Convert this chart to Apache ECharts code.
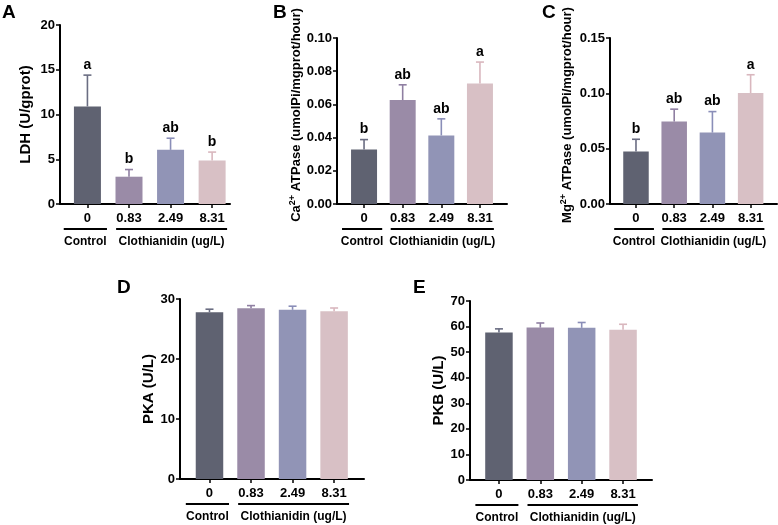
<!DOCTYPE html>
<html>
<head>
<meta charset="utf-8">
<script src="https://cdn.jsdelivr.net/npm/echarts@6/dist/echarts.min.js"></script>
<style>
	html, body { margin: 0; padding: 0; background: #fff; }
	#charts { width: 778px; height: 525px; }
</style>
</head>
<body>
<div id="charts"></div>
<script>
// doses on the x axis, same for every panel
var doses = ['0', '0.83', '2.49', '8.31'];
var groupNames = ['Control', 'Clothianidin (ug/L)'];
var groupFrom = [0, 1];
var groupTo = [0, 3];

// A - LDH
var ldhMean = [10.9, 3.05, 6.05, 4.85];
var ldhUpper = [14.4, 3.85, 7.35, 5.8];
var ldhSig = ['a', 'b', 'ab', 'b'];
// B - Ca2+ ATPase
var caMean = [0.0328, 0.0626, 0.0413, 0.0726];
var caUpper = [0.0388, 0.0718, 0.0513, 0.0855];
var caSig = ['b', 'ab', 'ab', 'a'];
// C - Mg2+ ATPase
var mgMean = [0.0475, 0.0745, 0.0645, 0.1003];
var mgUpper = [0.0585, 0.0857, 0.0835, 0.1168];
var mgSig = ['b', 'ab', 'ab', 'a'];
// D - PKA
var pkaMean = [27.8, 28.45, 28.2, 27.95];
var pkaUpper = [28.3, 28.9, 28.8, 28.5];
// E - PKB
var pkbMean = [57.7, 59.6, 59.5, 58.8];
var pkbUpper = [59.1, 61.4, 61.6, 60.9];

var barColors = ['#5f6271', '#9a8ba7', '#9194b6', '#d8c0c5'];
var errColors = ['#6a6d82', '#8f7fa2', '#8a8eb8', '#d9b7be'];
var FONT = '"Liberation Sans", Arial, sans-serif';

var panels = [
	{ letter: 'A', grid: { left: 60, top: 25, width: 170, height: 179 }, xMin: -0.66, xMax: 3.43, barW: 27,
	  yMax: 20, yInt: 5, dec: 0, name: 'LDH (U/gprot)', nameGap: 27, mean: ldhMean, upper: ldhUpper, sig: ldhSig },
	{ letter: 'B', grid: { left: 337, top: 38, width: 170, height: 166 }, xMin: -0.7, xMax: 3.7, barW: 26,
	  yMax: 0.10, yInt: 0.02, dec: 2, name: '{n|Ca}{s|2+}{n| ATPase (umolPi/mgprot/hour)}', nameGap: 22, mean: caMean, upper: caUpper, sig: caSig },
	{ letter: 'C', grid: { left: 610, top: 38, width: 167, height: 166 }, xMin: -0.68, xMax: 3.69, barW: 25.5,
	  yMax: 0.15, yInt: 0.05, dec: 2, name: '{n|Mg}{s|2+}{n| ATPase (umolPi/mgprot/hour)}', nameGap: 35, mean: mgMean, upper: mgUpper, sig: mgSig },
	{ letter: 'D', grid: { left: 180, top: 299, width: 184, height: 180 }, xMin: -0.71, xMax: 3.72, barW: 27.5,
	  yMax: 30, yInt: 10, dec: 0, name: 'PKA (U/L)', nameGap: 23, mean: pkaMean, upper: pkaUpper, sig: null },
	{ letter: 'E', grid: { left: 470, top: 301, width: 182, height: 179 }, xMin: -0.7, xMax: 3.7, barW: 27.5,
	  yMax: 70, yInt: 10, dec: 0, name: 'PKB (U/L)', nameGap: 24, mean: pkbMean, upper: pkbUpper, sig: null }
];
var letterPos = [[2, 3], [273, 3], [542, 3], [117, 278], [413, 278]];

var option = {
	backgroundColor: '#fff',
	animation: false,
	textStyle: { fontFamily: FONT },
	title: [],
	grid: [],
	xAxis: [],
	yAxis: [],
	series: []
};

panels.forEach(function (p, i) {
	var rotatedLong = i === 1 || i === 2;
	option.title.push({
		text: p.letter, left: letterPos[i][0], top: letterPos[i][1], padding: 0,
		textStyle: { fontFamily: FONT, fontSize: 19, fontWeight: 'bold', color: '#000' }
	});
	option.grid.push(p.grid);
	option.xAxis.push({
		type: 'value', gridIndex: i, min: p.xMin, max: p.xMax,
		axisLine: { show: true, onZero: false, lineStyle: { color: '#000', width: 2 } },
		axisTick: { show: true, length: 4, customValues: [0, 1, 2, 3], lineStyle: { color: '#000', width: 1.5 } },
		axisLabel: {
			customValues: [0, 1, 2, 3], margin: 8,
			fontFamily: FONT, fontSize: 13, fontWeight: 'bold', color: '#000',
			formatter: function (v) { return doses[Math.round(v)]; }
		},
		splitLine: { show: false }
	});
	option.yAxis.push({
		type: 'value', gridIndex: i, min: 0, max: p.yMax, interval: p.yInt,
		name: p.name, nameLocation: 'middle', nameGap: p.nameGap,
		nameTextStyle: {
			fontFamily: FONT, fontSize: rotatedLong ? 13 : 15, fontWeight: 'bold', color: '#000',
			padding: rotatedLong ? [0, 0, 0, 12] : 0,
			rich: {
				n: { fontFamily: FONT, fontSize: 13, fontWeight: 'bold', color: '#000', lineHeight: 16 },
				s: { fontFamily: FONT, fontSize: 9, fontWeight: 'bold', color: '#000', verticalAlign: 'top', lineHeight: 16 }
			}
		},
		axisLine: { show: true, onZero: false, lineStyle: { color: '#000', width: 2 } },
		axisTick: { show: true, length: 4, lineStyle: { color: '#000', width: 1.5 } },
		axisLabel: {
			margin: 5, fontFamily: FONT, fontSize: 13, fontWeight: 'bold', color: '#000',
			formatter: function (v) { return v.toFixed(p.dec); }
		},
		splitLine: { show: false }
	});

	// bars
	option.series.push({
		type: 'bar', xAxisIndex: i, yAxisIndex: i, barWidth: p.barW,
		itemStyle: { color: function (params) { return barColors[params.dataIndex]; } },
		data: p.mean.map(function (m, k) { return [k, m]; })
	});

	// error bars + significance letters
	option.series.push({
		type: 'custom', xAxisIndex: i, yAxisIndex: i, z: 3,
		renderItem: function (params, api) {
			var k = params.dataIndex;
			var top = api.coord([api.value(0), api.value(2)]);
			var bot = api.coord([api.value(0), api.value(1)]);
			var c = errColors[k];
			var kids = [
				{ type: 'line', shape: { x1: top[0], y1: top[1], x2: bot[0], y2: bot[1] }, style: { stroke: c, lineWidth: 1.6 } },
				{ type: 'line', shape: { x1: top[0] - 4, y1: top[1], x2: top[0] + 4, y2: top[1] }, style: { stroke: c, lineWidth: 1.6 } }
			];
			if (p.sig) {
				kids.push({
					type: 'text', x: top[0], y: top[1] - 3,
					style: { text: p.sig[k], fontFamily: FONT, fontSize: 14, fontWeight: 'bold', fill: '#000', align: 'center', verticalAlign: 'bottom' }
				});
			}
			return { type: 'group', children: kids };
		},
		data: p.mean.map(function (m, k) { return [k, m, p.upper[k]]; })
	});

	// group brackets under the axis
	option.series.push({
		type: 'custom', xAxisIndex: i, yAxisIndex: i, clip: false,
		renderItem: function (params, api) {
			var k = params.dataIndex;
			var a = api.coord([api.value(0), 0]);
			var b = api.coord([api.value(1), 0]);
			var u = api.size([1, 0])[0];
			var single = api.value(0) === api.value(1);
			var x1 = a[0] - (single ? 0.57 : 0.31) * u;
			var x2 = b[0] + (single ? 0.47 : 0.36) * u;
			var y = a[1] + 25;
			return {
				type: 'group',
				children: [
					{ type: 'line', shape: { x1: x1, y1: y, x2: x2, y2: y }, style: { stroke: '#000', lineWidth: 1.8 } },
					{ type: 'text', x: (x1 + x2) / 2, y: y + 13,
					  style: { text: groupNames[k], fontFamily: FONT, fontSize: 12, fontWeight: 'bold', fill: '#000', align: 'center', verticalAlign: 'middle' } }
				]
			};
		},
		data: groupFrom.map(function (f, k) { return [f, groupTo[k]]; })
	});
});

var chart = echarts.init(document.getElementById('charts'));
chart.setOption(option);
</script>
</body>
</html>
